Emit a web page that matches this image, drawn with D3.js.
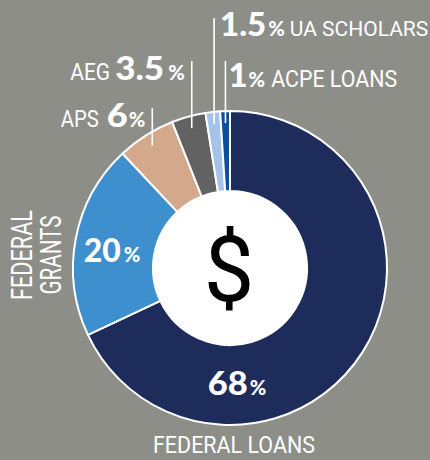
<!DOCTYPE html>
<html>
<head>
<meta charset="utf-8">
<script src="https://cdn.jsdelivr.net/npm/d3@7/dist/d3.min.js"></script>
<style>
  html, body { margin: 0; padding: 0; background: #8e8e89; }
  svg { display: block; }
  .big { font-family: Lato, "Open Sans", sans-serif; font-weight: 900; fill: #fff; }
  .name { font-family: Roboto, "Liberation Sans", sans-serif; font-weight: 400; fill: #fff; }
</style>
</head>
<body>
<svg id="chart" width="430" height="460"></svg>
<script>
// Funding sources, share of total (%)
const categories = ["FEDERAL LOANS", "FEDERAL GRANTS", "APS", "AEG", "UA SCHOLARS", "ACPE LOANS"];
const shares = [68, 20, 6, 3.5, 1.5, 1];
const shareLabels = ["68", "20", "6", "3.5", "1.5", "1"];
const sliceColors = ["#1e2c5b", "#3e8fcd", "#d4a98b", "#626262", "#a5c3e8", "#0e4e9b"];

const W = 430, H = 460;
const cx = 230, cy = 268;
const outerR = 157, innerR = 77, leaderR = 145;

const svg = d3.select("#chart");
svg.append("rect").attr("width", W).attr("height", H).attr("fill", "#8e8e89");

const data = categories.map((c, i) => ({ name: c, value: shares[i], label: shareLabels[i], color: sliceColors[i] }));

const pie = d3.pie().value(d => d.value).sort(null).startAngle(0).endAngle(2 * Math.PI);
const arcs = pie(data);
const arc = d3.arc().innerRadius(innerR).outerRadius(outerR);

const g = svg.append("g").attr("transform", `translate(${cx},${cy})`);

g.selectAll("path.slice")
  .data(arcs)
  .join("path")
  .attr("class", "slice")
  .attr("d", arc)
  .attr("fill", d => d.data.color)
  .attr("stroke", "#fff")
  .attr("stroke-width", 2)
  .attr("stroke-linejoin", "round");

// white hub with the dollar sign
g.append("circle").attr("r", innerR).attr("fill", "#fff");
g.append("text")
  .attr("x", -1).attr("y", 33)
  .attr("text-anchor", "middle")
  .attr("font-family", "Roboto, sans-serif")
  .attr("font-size", 90)
  .attr("fill", "#000")
  .text("$");

// Lays out a run of text pieces left to right from x (or ending at / centred on x)
function drawRun(parent, x, y, pieces, anchor) {
  const grp = parent.append("g");
  const nodes = pieces.map(p => {
    const t = grp.append("text")
      .attr("class", p.cls)
      .attr("font-size", p.size)
      .attr("y", y)
      .text(p.text);
    if (p.len) t.attr("textLength", p.len).attr("lengthAdjust", "spacingAndGlyphs");
    const w = p.len || t.node().getComputedTextLength();
    return { t, w, gap: p.gap || 0 };
  });
  const total = nodes.reduce((s, n, i) => s + n.w + (i ? n.gap : 0), 0);
  let pos = anchor === "end" ? x - total : anchor === "middle" ? x - total / 2 : x;
  nodes.forEach((n, i) => {
    if (i) pos += n.gap;
    n.t.attr("x", pos);
    pos += n.w;
  });
  return grp;
}

const num = (text, len, gap) => ({ text, cls: "big", size: 33, len, gap });
const pct = (gap) => ({ text: "%", cls: "big", size: 20, gap });
const nm = (text, len, gap, size) => ({ text, cls: "name", size: size || 23, len, gap });

// in-ring labels
drawRun(svg, 237, 395, [num(arcs[0].data.label, 40), pct(2)], "middle");
drawRun(svg, 112, 262, [num(arcs[1].data.label, 37), pct(3)], "middle");

// name labels for the two large slices
drawRun(svg, 234, 453, [nm(arcs[0].data.name, 162)], "middle");
const grants = svg.append("g").attr("transform", "translate(0,255) rotate(-90)");
grants.append("text").attr("class", "name").attr("font-size", 29)
  .attr("x", 0).attr("y", 32).attr("text-anchor", "middle")
  .attr("textLength", 90).attr("lengthAdjust", "spacingAndGlyphs")
  .text("FEDERAL");
grants.append("text").attr("class", "name").attr("font-size", 29)
  .attr("x", 0).attr("y", 61).attr("text-anchor", "middle")
  .attr("textLength", 79).attr("lengthAdjust", "spacingAndGlyphs")
  .text("GRANTS");

// callouts for the small slices: vertical leader up from the slice
const callouts = [
  { i: 2, baseline: 127, top: 108, side: "left",  pad: 7, nameLen: 38,  numLen: 21,   nameSize: 23, gaps: [8, 1] },
  { i: 3, baseline: 80,  top: 61,  side: "left",  pad: 7, nameLen: 40,  numLen: 49,   nameSize: 23, gaps: [5, 4] },
  { i: 4, baseline: 36,  top: 18,  side: "right", pad: 6, nameLen: null, numLen: null, nameSize: 21, gaps: [2, 5] },
  { i: 5, baseline: 87,  top: 61,  side: "right", pad: 3, nameLen: 126, numLen: null, nameSize: 23, gaps: [1, 6] }
];

callouts.forEach(c => {
  const a = arcs[c.i];
  const mid = (a.startAngle + a.endAngle) / 2;
  const lx = cx + leaderR * Math.sin(mid);
  const ly = cy - leaderR * Math.cos(mid);
  svg.append("line")
    .attr("x1", lx).attr("x2", lx)
    .attr("y1", c.top).attr("y2", ly)
    .attr("stroke", "#fff").attr("stroke-width", 1.6);
  if (c.side === "left") {
    drawRun(svg, lx - c.pad, c.baseline,
      [nm(a.data.name, c.nameLen, 0, c.nameSize), num(a.data.label, c.numLen, c.gaps[0]), pct(c.gaps[1])], "end");
  } else {
    drawRun(svg, lx + c.pad, c.baseline,
      [num(a.data.label, c.numLen), pct(c.gaps[0]), nm(a.data.name, c.nameLen, c.gaps[1], c.nameSize)], "start");
  }
});
</script>
</body>
</html>
